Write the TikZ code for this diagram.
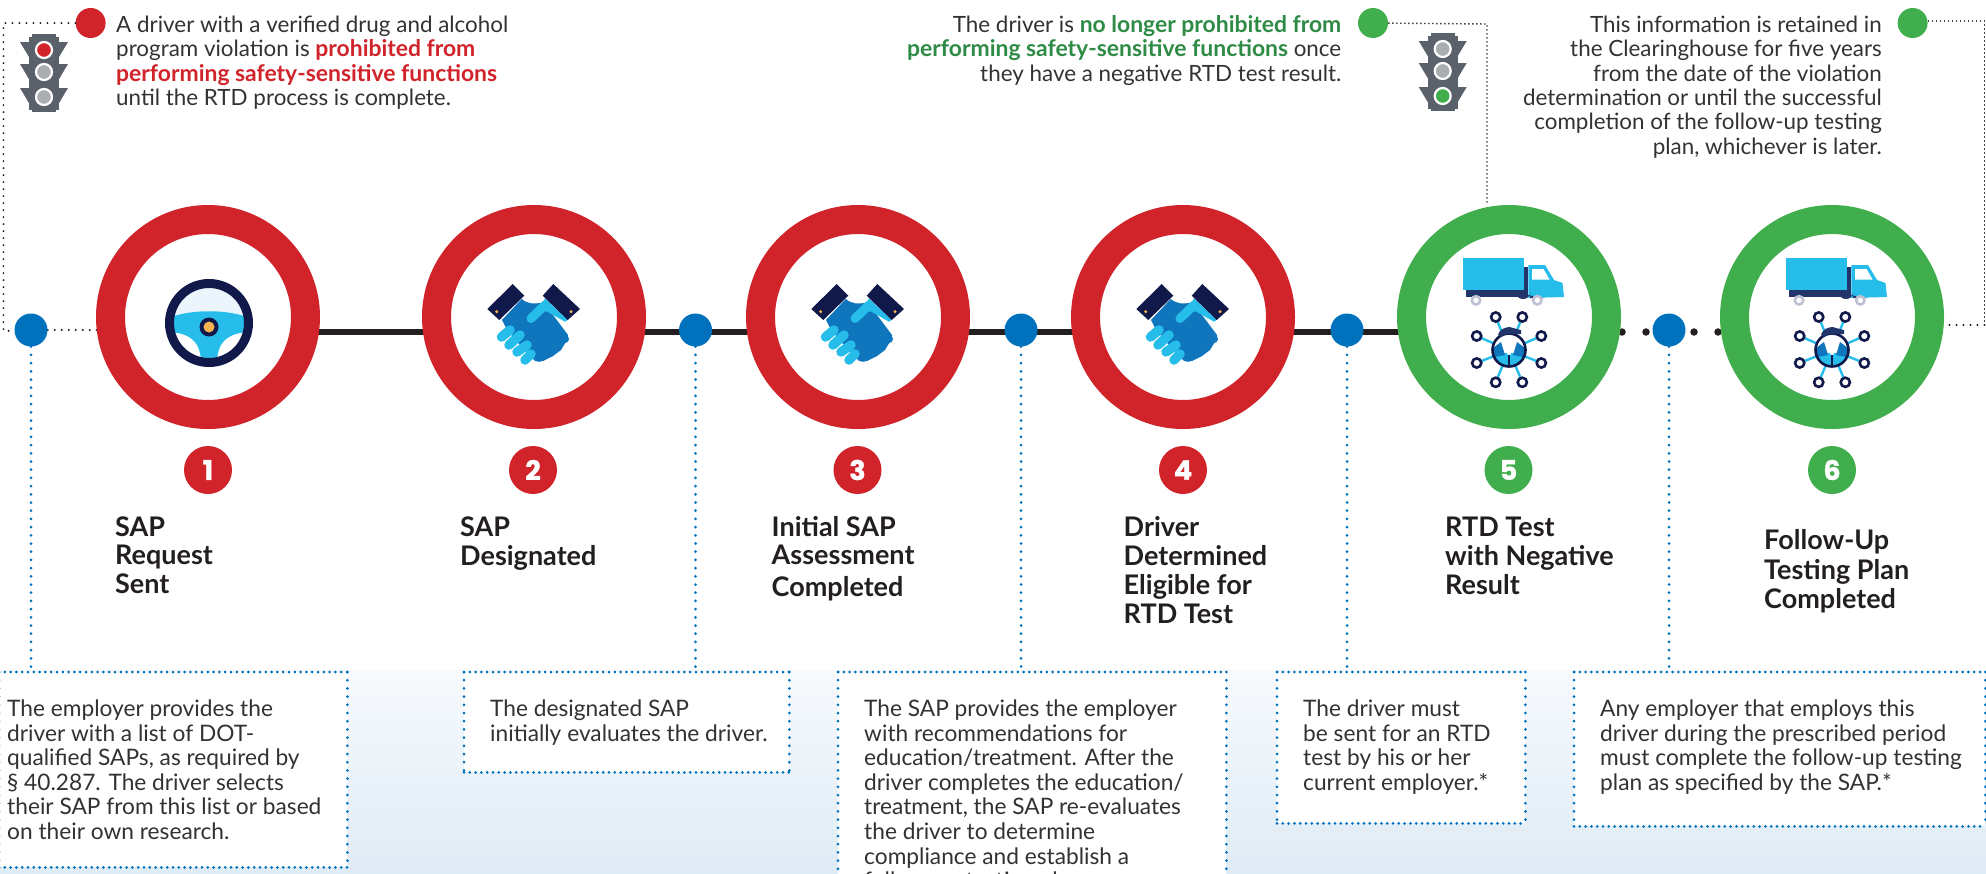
\documentclass[tikz,border=0pt]{standalone}
\usepackage{fontspec}
\setmainfont{Lato}
\newfontfamily\numfont[BoldFeatures={FakeBold=1.2}]{Poppins}
\usetikzlibrary{backgrounds,calc}
\definecolor{cred}{HTML}{D1232A}
\definecolor{cgreen}{HTML}{41AE4D}
\definecolor{cgreentxt}{HTML}{2E8B45}
\definecolor{cblue}{HTML}{0071BC}
\definecolor{cink}{HTML}{231F20}
\definecolor{cnavy}{HTML}{10194A}
\definecolor{cdblue}{HTML}{21356B}
\definecolor{ccyan}{HTML}{27BDEA}
\definecolor{cmid}{HTML}{0F75BC}
\definecolor{cgray}{HTML}{5B616B}
\definecolor{clamp}{HTML}{ABAEB1}
\definecolor{corange}{HTML}{F7B250}
\definecolor{grtop}{HTML}{F7FAFD}
\definecolor{grbot}{HTML}{DFEBF5}
\definecolor{cpale}{HTML}{EDF5FC}
\newcommand{\bred}[1]{\textcolor{cred}{\bfseries\fontsize{22.9}{24.4}\selectfont #1}}
\newcommand{\bgrn}[1]{\textcolor{cgreentxt}{\bfseries\fontsize{22.9}{24.4}\selectfont #1}}
\tikzset{
 x=1pt,y=-1pt,
 ring/.style={circle,draw=#1,line width=29pt,fill=white,minimum size=195pt,inner sep=0pt},
 badge/.style={circle,fill=#1,minimum size=48pt,inner sep=0pt,text=white,font=\numfont\bfseries\fontsize{27}{27}\selectfont},
 bluedot/.style={circle,fill=cblue,minimum size=33pt,inner sep=0pt},
 notedot/.style={circle,fill=#1,minimum size=30pt,inner sep=0pt},
 vdot/.style={draw=cblue,line width=3pt,line cap=round,dash pattern=on 0pt off 8.2pt},
 hdot/.style={draw=cblue,line width=3pt,line cap=round,dash pattern=on 0pt off 5.8pt},
 gdot/.style={draw=cink,line width=2.2pt,line cap=round,dash pattern=on 0pt off 7pt},
 fdot/.style={draw=cink!85,line width=1.4pt,dash pattern=on 1.4pt off 2.6pt},
 mainline/.style={draw=cink,line width=5.5pt},
 dotline/.style={draw=cink,line width=7.5pt,line cap=round,dash pattern=on 0pt off 24pt,dash phase=7pt},
 head/.style={inner sep=0pt,anchor=north west,align=left,text=cink,font=\bfseries\fontsize{27}{28.6}\selectfont},
 note/.style={inner sep=0pt,align=#1,text=cink!92,font=\fontsize{22.4}{24.4}\selectfont},
 boxtxt/.style={inner sep=0pt,anchor=north west,align=left,text=cink!92,font=\fontsize{22.7}{24.6}\selectfont},
 panel/.style={fill=white,inner sep=0pt,anchor=north west,minimum width=#1},
}
\newcommand{\wheelicon}[1]{\begin{scope}[shift={(#1)}]
 \begin{scope}\clip (0,6) circle (38);
  \fill[white] (-40,-34) rectangle (40,46);
  \fill[cpale] (-40,-34) rectangle (40,6);
  \fill[ccyan] (-40,1) .. controls (-20,-8) and (20,-8) .. (40,1) -- (40,15) .. controls (22,16) and (8,22) .. (8,46) -- (-8,46) .. controls (-8,22) and (-22,16) .. (-40,15) -- cycle;
 \end{scope}
 \draw[cnavy,line width=9pt] (0,6) circle (39.5);
 \fill[cnavy] (0,10) circle (9.5);
 \fill[corange] (0,10) circle (5.5);
\end{scope}}
\newcommand{\shakeicon}[1]{\begin{scope}[shift={(#1)}]
 \fill[cmid] (-12.3,-18) .. controls (-6,-13) and (0,-13) .. (6,-14) -- (13,-10) -- (34,18) -- (33,23) -- (27,33) -- (19,39) -- (9,44) -- (1,44) -- (-7,36) -- (-27,13) -- (-32,3) -- cycle;
 \draw[cmid,line width=8pt,line cap=round] (16,6) -- (31,22) (11,13) -- (24,30) (4,20) -- (16,36) (-1,26) -- (5,41);
 \fill[ccyan] (11,-18.6) -- (33.7,3) -- (31,4.7) -- (13.3,-5.3) -- (4,-7) -- cycle;
 \draw[ccyan,line width=9pt,line cap=round] (-3,1.5) -- (11,-12);
 \draw[ccyan,line width=9.5pt,line cap=round] (-32.5,20) -- (-24,13) (-25,28) -- (-14,18) (-17,35) -- (-7,28) (-9,43) -- (-3,37);
 \fill[cnavy] (-21.3,-33) -- (-9.7,-21.3) -- (-34.7,3) -- (-46.7,-8) -- cycle;
 \fill[cnavy] (19.3,-33) -- (46,-8) -- (33.7,3) -- (8.7,-21.3) -- cycle;
 \fill[corange] (-37.3,-5.3) circle (1.7) (37,-5.3) circle (1.7);
\end{scope}}
\newcommand{\truckicon}[1]{\begin{scope}[shift={(#1)}]
 \fill[cdblue] (-43.3,-27) rectangle (19.3,-20.3);
 \fill[cdblue] (15.3,-50) rectangle (19.3,-27);
 \fill[ccyan] (-46,-58.7) rectangle (15.3,-27);
 \fill[ccyan] (19.3,-52) -- (36,-52) -- (45,-37) -- (53.5,-34) -- (55,-20) -- (19.3,-19) -- cycle;
 \fill[white] (23,-48) -- (34.5,-48) -- (40.5,-37.5) -- (23,-37.5) -- cycle;
 \fill[cdblue] (21,-19) -- (21,-24) arc (180:360:-7 and -6) -- (35,-19) -- cycle;
 \draw[cdblue!30!white,line width=2.6pt,fill=white] (-33,-16.7) circle (4.2) (28.3,-16.7) circle (4.2);
\end{scope}}
\newcommand{\neticon}[1]{\begin{scope}[shift={(#1)}]
 \foreach \p in {(-13.3,0),(13.3,0),(-32.3,19),(32.3,19),(-32.3,46),(32.3,46),(-13.3,65.3),(13.3,65.3)}{
  \draw[ccyan,line width=2.4pt] (0,33) -- \p;
 }
 \foreach \p in {(-13.3,0),(13.3,0),(-32.3,19),(32.3,19),(-32.3,46),(32.3,46),(-13.3,65.3),(13.3,65.3)}{
  \draw[cnavy,line width=2.6pt,fill=white] \p circle (4.6);
 }
 \begin{scope}\clip (0,33) circle (16.5);
  \fill[white] (-18,14) rectangle (18,52);
  \fill[ccyan] (-18,36) rectangle (18,52);
  \fill[cmid] (-16,31) -- (-8,25) -- (-4,38) -- (-14,40) -- cycle;
  \fill[cmid] (16,31) -- (8,25) -- (4,38) -- (14,40) -- cycle;
  \fill[white] (-4,32) -- (4,32) -- (0,40) -- cycle;
 \end{scope}
 \draw[cnavy,line width=2.6pt] (0,33) circle (16.5);
 \draw[cnavy,line width=2pt] (0,38) -- (0,50);
 \fill[cdblue] (-11,18) .. controls (-9,10) and (2,9) .. (4,11) -- (12,13) -- (12,17) -- (-2,17) -- (-8,20) -- cycle;
\end{scope}}
\newcommand{\lighticon}[5]{\begin{scope}[shift={(#1)}]
 \fill[cgray] (-12,0) rectangle (12,78);
 \fill[cgray] (-15,3) rectangle (15,76);
 \foreach \w in {8,30,54}{
  \fill[cgray] (-24,\w) -- (24,\w) -- (15,\w+15) -- (-15,\w+15) -- cycle;
 }
 \draw[white,line width=2.2pt,fill=#3] (0,#2) circle (8);
 \draw[white,line width=2.2pt,fill=#4] (0,#2+22) circle (8);
 \draw[white,line width=2.2pt,fill=#5] (0,#2+47) circle (8);
\end{scope}}
\newcommand{\boxedges}[1]{
 \draw[hdot] (#1.north west) -- (#1.north east);
 \draw[hdot] (#1.south west) -- (#1.south east);
 \draw[vdot] (#1.north west) -- (#1.south west);
 \draw[vdot] (#1.north east) -- (#1.south east);
}
\begin{document}
\begin{tikzpicture}
\useasboundingbox (0,0) rectangle (1986,873);
\clip (0,0) rectangle (1986,873);
% panels
\node[panel=348pt,minimum height=195pt] (b1) at (-1,672) {};
\node[panel=325pt,minimum height=100pt] (b2) at (464,672) {};
\node[panel=388pt,minimum height=240pt] (b3) at (838,672) {};
\node[panel=248pt,minimum height=151pt] (b4) at (1277,672) {};
\node[panel=411pt,minimum height=154pt] (b5) at (1574,672) {};
\boxedges{b1}\boxedges{b2}\boxedges{b3}\boxedges{b4}\boxedges{b5}
% main line origin
\coordinate (l0) at (0,332);
% rings
\node[ring=cred] (c1) at (208,317) {};
\node[ring=cred] (c2) at (534,317) {};
\node[ring=cred] (c3) at (858,317) {};
\node[ring=cred] (c4) at (1183,317) {};
\node[ring=cgreen] (c5) at (1509,317) {};
\node[ring=cgreen] (c6) at (1832,317) {};
% blue dots
\node[bluedot] (d0) at (31,330) {};
\node[bluedot] (d1) at (695.5,330) {};
\node[bluedot] (d2) at (1021,330) {};
\node[bluedot] (d3) at (1347,330) {};
\node[bluedot] (d4) at (1669,330) {};
\begin{pgfonlayer}{background}
\shade[top color=grtop,bottom color=grbot] (0,670) rectangle (1986,873);
\draw[mainline] (c1 |- l0) -- (c2 |- l0);
\draw[mainline] (c2 |- l0) -- (c3 |- l0);
\draw[mainline] (c3 |- l0) -- (c4 |- l0);
\draw[mainline] (c4 |- l0) -- (c5 |- l0);
\draw[dotline] (c5 |- l0) -- (c6 |- l0);
\draw[gdot] (d0) -- (c1 |- d0);
\end{pgfonlayer}
\draw[vdot] (d0) -- (d0 |- b1.north);
\draw[vdot] (d1) -- (d1 |- b2.north);
\draw[vdot] (d2) -- (d2 |- b3.north);
\draw[vdot] (d3) -- (d3 |- b4.north);
\draw[vdot] (d4) -- (d4 |- b5.north);
% note dots
\node[notedot=cred] (n1) at (90.6,23) {};
\node[notedot=cgreen] (n2) at (1373,23) {};
\node[notedot=cgreen] (n3) at (1912.6,23) {};
\coordinate (k1) at (3.5,23);
\coordinate (k2) at (3.5,331);
\coordinate (k3) at (1487,24);
\coordinate (k4) at (1984.5,21);
\coordinate (k5) at (1984.5,325);
\draw[gdot] (n1) -- (k1) -- (k2) -- (d0);
\draw[fdot] (n2) -- (k3) -- (k3 |- c5.north);
\draw[fdot] (n3.east |- k4) -- (k4) -- (k5);
\draw[gdot] (k5) -- (c6.east |- k5);
% icons
\wheelicon{209,317}
\shakeicon{534,317}
\shakeicon{858,317}
\shakeicon{1183,317}
\truckicon{1509,317}\neticon{1509,317}
\truckicon{1832,317}\neticon{1832,317}
\lighticon{44,34}{16}{cred}{clamp}{clamp}
\lighticon{1442.7,33}{16}{clamp}{clamp}{cgreen}
% badges
\node[badge=cred] (g1) at (208,470) {1};
\node[badge=cred] (g2) at (533,470) {2};
\node[badge=cred] (g3) at (857.5,470) {3};
\node[badge=cred] (g4) at (1183,470) {4};
\node[badge=cgreen] (g5) at (1508.5,470) {5};
\node[badge=cgreen] (g6) at (1832,470) {6};
% headings
\node[head] (h1) at (115,516) {\strut SAP\\Request\\Sent};
\node[head] (h2) at (460,516) {\strut SAP\\Designated};
\node[head] (h3) at (771.5,516) {\strut Initial SAP\\Assessment\\[3pt]Completed};
\node[head] (h4) at (1123.5,516) {\strut Driver\\Determined\\Eligible for\\RTD Test};
\node[head] (h5) at (1445,516) {\strut RTD Test\\with Negative\\Result};
\node[head] (h6) at (1764,529.5) {\strut Follow-Up\\Testing Plan\\Completed};
% notes
\node[note=left,anchor=north west] (t1) at (116,15) {\strut A driver with a verified drug and alcohol\\program violation is \bred{prohibited from}\\\bred{performing safety-sensitive functions}\\until the RTD process is complete.};
\node[note=right,anchor=north east] (t2) at (1341.5,15) {\strut The driver is \bgrn{no longer prohibited from}\\\bgrn{performing safety-sensitive functions} once\\they have a negative RTD test result.};
\node[note=right,anchor=north east] (t3) at (1882,15) {\strut This information is retained in\\the Clearinghouse for five years\\from the date of the violation\\determination or until the successful\\completion of the follow-up testing\\plan, whichever is later.};
% box texts
\node[boxtxt] (x1) at (7,699) {\strut The employer provides the\\driver with a list of DOT-\\qualified SAPs, as required by\\§ 40.287. The driver selects\\their SAP from this list or based\\on their own research.};
\node[boxtxt] (x2) at (490,699) {\strut The designated SAP\\initially evaluates the driver.};
\node[boxtxt] (x3) at (864,699) {\strut The SAP provides the employer\\with recommendations for\\education/treatment. After the\\driver completes the education/\\treatment, the SAP re-evaluates\\the driver to determine\\compliance and establish a\\follow-up testing plan.};
\node[boxtxt] (x4) at (1303,699) {\strut The driver must\\be sent for an RTD\\test by his or her\\current employer.*};
\node[boxtxt] (x5) at (1600,699) {\strut Any employer that employs this\\driver during the prescribed period\\must complete the follow-up testing\\plan as specified by the SAP.*};
\end{tikzpicture}
\end{document}
